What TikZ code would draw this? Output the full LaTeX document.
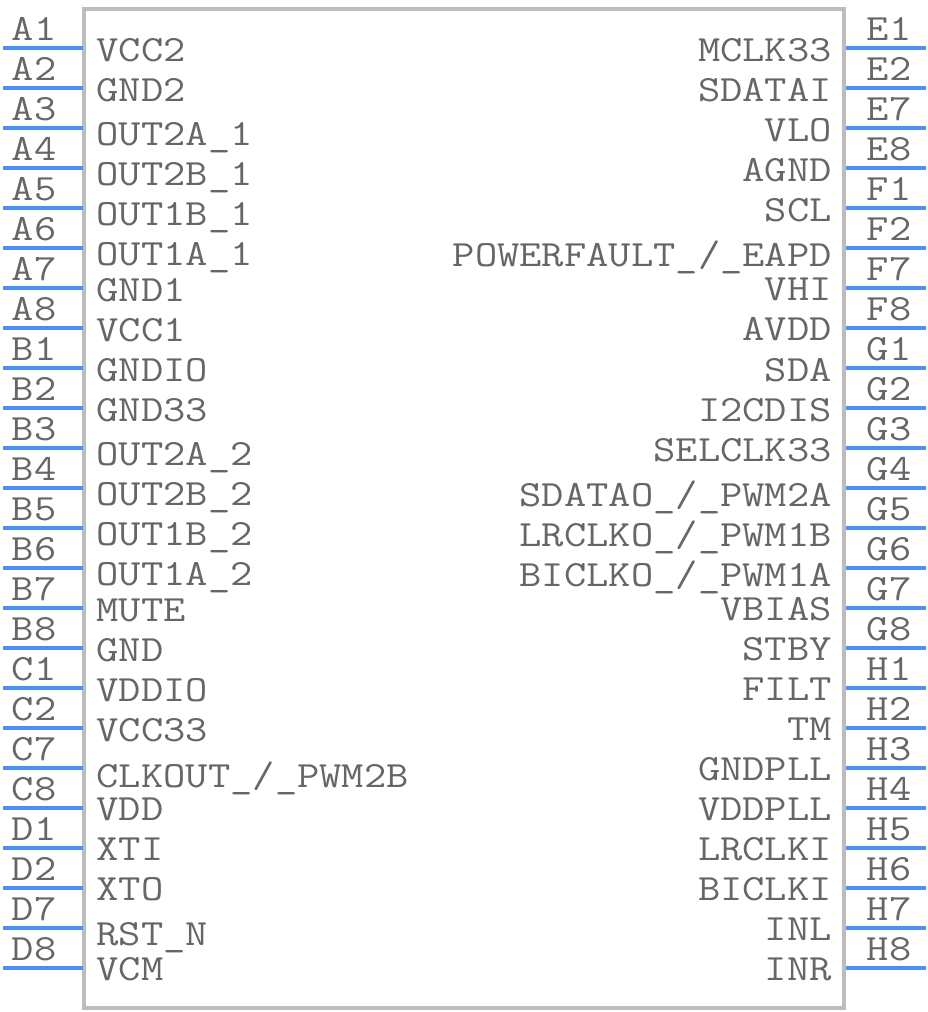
\documentclass[tikz,border=0pt]{standalone}
\usepackage{fontspec}
\newfontfamily\pinfont[FakeStretch=1.17]{Latin Modern Mono}
\definecolor{pinblue}{HTML}{4A90F0}
\definecolor{boxgray}{HTML}{BDBDBD}
\definecolor{txtgray}{HTML}{666666}
\tikzset{
  px/.style={x=1pt,y=-1pt},
  body/.style={draw=boxgray,line width=4pt,fill=white},
  pin/.style={draw=pinblue,line width=4pt},
  lbl/.style={inner sep=0pt,text=txtgray,font=\pinfont\fontsize{37}{37}\selectfont},
  lname/.style={lbl,anchor=base west},
  rname/.style={lbl,anchor=base east},
  pnum/.style={lbl,anchor=base},
}
\begin{document}
\begin{tikzpicture}[px]
\useasboundingbox (0,0) rectangle (928,1012);
\draw[body] (84.3,8.5) rectangle (843.7,1007.7);
\foreach \n/\i/\t/\y in {A1/0/VCC2/61,A2/1/GND2/101,A3/2/OUT2A\_1/145,A4/3/OUT2B\_1/185,A5/4/OUT1B\_1/225,A6/5/OUT1A\_1/265,A7/6/GND1/301,A8/7/VCC1/341,B1/8/GNDIO/381,B2/9/GND33/421,B3/10/OUT2A\_2/465,B4/11/OUT2B\_2/505,B5/12/OUT1B\_2/545,B6/13/OUT1A\_2/585,B7/14/MUTE/621,B8/15/GND/661,C1/16/VDDIO/701,C2/17/VCC33/741,C7/18/{CLKOUT\_/\_PWM2B}/787,C8/19/VDD/820,D1/20/XTI/860,D2/21/XTO/900,D7/22/RST\_N/945,D8/23/VCM/980}{
  \pgfmathsetmacro{\py}{47.7+40*\i}
  \coordinate (p\n a) at (3.3,\py);
  \coordinate (p\n b) at (82.7,\py);
  \draw[pin] (p\n a) -- (p\n b);
  \node[pnum] (num\n) at (34,\py-7.7) {\n};
  \node[lname] (name\n) at (96.5,\y) {\t};
}
\foreach \n/\i/\t/\y in {E1/0/MCLK33/61,E2/1/SDATAI/101,E7/2/VLO/141,E8/3/AGND/181,F1/4/SCL/221,F2/5/{POWERFAULT\_/\_EAPD}/266,F7/6/VHI/300,F8/7/AVDD/340,G1/8/SDA/381,G2/9/I2CDIS/421,G3/10/SELCLK33/461,G4/11/{SDATAO\_/\_PWM2A}/506,G5/12/{LRCLKO\_/\_PWM1B}/546,G6/13/{BICLKO\_/\_PWM1A}/586,G7/14/VBIAS/620,G8/15/STBY/660,H1/16/FILT/700,H2/17/TM/740,H3/18/GNDPLL/780,H4/19/VDDPLL/820,H5/20/LRCLKI/860,H6/21/BICLKI/900,H7/22/INL/940,H8/23/INR/980}{
  \pgfmathsetmacro{\py}{47.7+40*\i}
  \coordinate (p\n a) at (846,\py);
  \coordinate (p\n b) at (925.7,\py);
  \draw[pin] (p\n a) -- (p\n b);
  \node[pnum] (num\n) at (889,\py-7.7) {\n};
  \node[rname] (name\n) at (832,\y) {\t};
}
\end{tikzpicture}
\end{document}
